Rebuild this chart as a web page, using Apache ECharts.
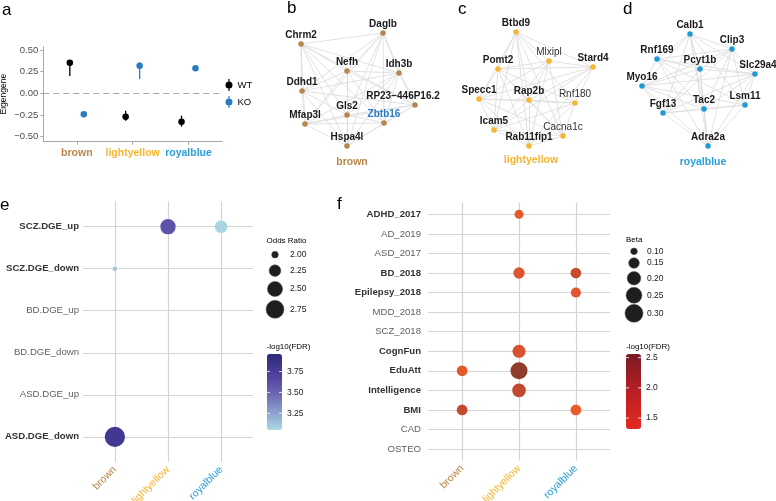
<!DOCTYPE html>
<html><head><meta charset="utf-8">
<script src="https://cdn.jsdelivr.net/npm/echarts@6/dist/echarts.min.js"></script>
<style>html,body{margin:0;padding:0;background:#fff}#c{width:776px;height:501px}</style>
</head><body><div id="c"></div><script>
// ---------- data ----------
const modules = ['brown', 'lightyellow', 'royalblue'];
// panel a (eigengene)
const eigenTicks = [-0.5, -0.25, 0, 0.25, 0.5];
const wtMean = [0.353, -0.270, -0.327];
const wtLow  = [0.200, -0.316, -0.385];
const wtHigh = [0.385, -0.200, -0.258];
const koMean = [-0.242, 0.318, 0.288];
const koLow  = [-0.252, 0.165, 0.272];
const koHigh = [-0.232, 0.357, 0.302];
// panel b/c/d networks (layout coordinates)
const brownGenes = ['Chrm2', 'Daglb', 'Nefh', 'Idh3b', 'Ddhd1', 'RP23\u2212446P16.2', 'Gls2', 'Mfap3l', 'Zbtb16', 'Hspa4l'];
const brownX = [11, 93, 57, 109, 12, 125, 57, 15, 94, 57];
const brownY = [24, 13, 51, 53, 71, 85, 95, 104, 103, 126];
const brownEdges = [[0,1],[0,2],[0,3],[0,4],[0,5],[0,6],[0,7],[0,8],[0,9],[1,2],[1,3],[1,4],[1,6],[1,7],[1,8],[1,9],[1,5],[2,3],[2,4],[2,5],[2,6],[2,8],[2,9],[2,7],[3,4],[3,5],[3,6],[3,7],[3,8],[3,9],[4,5],[4,6],[4,7],[4,9],[5,6],[5,7],[5,8],[5,9],[6,7],[6,8],[6,9],[7,8],[7,9],[8,9]];
const yellowGenes = ['Btbd9', 'Pomt2', 'Mlxipl', 'Stard4', 'Specc1', 'Rap2b', 'Rnf180', 'Icam5', 'Cacna1c', 'Rab11fip1'];
const yellowX = [56, 38, 89, 133, 19, 69, 115, 34, 103, 69];
const yellowY = [12, 49, 41, 47, 79, 80, 83, 110, 116, 126];
const yellowEdges = [[0,1],[0,2],[0,3],[0,4],[0,5],[0,6],[0,7],[0,8],[0,9],[1,2],[1,3],[1,4],[1,5],[1,6],[1,7],[1,8],[1,9],[2,3],[2,4],[2,5],[2,7],[2,9],[2,8],[3,4],[3,5],[3,6],[3,7],[3,9],[4,5],[4,6],[4,7],[4,8],[4,9],[5,6],[5,7],[5,8],[5,9],[6,7],[6,9],[6,8],[7,8],[7,9],[8,9]];
const blueGenes = ['Calb1', 'Clip3', 'Rnf169', 'Pcyt1b', 'Slc29a4', 'Myo16', 'Fgf13', 'Tac2', 'Lsm11', 'Adra2a'];
const blueX = [60, 102, 27, 70, 125, 12, 33, 74, 115, 78];
const blueY = [14, 29, 39, 49, 54, 66, 93, 89, 85, 126];
const blueEdges = [[0,1],[0,2],[0,3],[0,4],[0,5],[0,6],[0,7],[0,8],[0,9],[1,2],[1,3],[1,4],[1,5],[1,6],[1,7],[1,8],[1,9],[2,3],[2,4],[2,5],[2,7],[2,8],[2,9],[3,4],[3,5],[3,6],[3,7],[3,9],[4,5],[4,6],[4,7],[4,8],[4,9],[5,6],[5,7],[5,8],[5,9],[6,7],[6,8],[6,9],[7,8],[7,9],[8,9]];
const yellowNormal = ['Mlxipl', 'Rnf180', 'Cacna1c'];
// panel e (DGE enrichment)
const dgeSets = ['SCZ.DGE_up', 'SCZ.DGE_down', 'BD.DGE_up', 'BD.DGE_down', 'ASD.DGE_up', 'ASD.DGE_down'];
const dgeModule = ['lightyellow', 'royalblue', 'brown', 'brown'];
const dgeSet = ['SCZ.DGE_up', 'SCZ.DGE_up', 'SCZ.DGE_down', 'ASD.DGE_down'];
const dgeOR = [2.51, 2.31, 1.93, 2.98];
const dgeFDR = [3.60, 3.06, 3.12, 3.80];
const orBreaks = [2.00, 2.25, 2.50, 2.75];
const dgeFdrTicks = [3.25, 3.50, 3.75];
// panel f (GWAS enrichment)
const gwasTraits = ['ADHD_2017', 'AD_2019', 'ASD_2017', 'BD_2018', 'Epilepsy_2018', 'MDD_2018', 'SCZ_2018', 'CognFun', 'EduAtt', 'Intelligence', 'BMI', 'CAD', 'OSTEO'];
const gwasModule = ['lightyellow', 'lightyellow', 'royalblue', 'royalblue', 'lightyellow', 'brown', 'lightyellow', 'lightyellow', 'brown', 'royalblue'];
const gwasTrait = ['ADHD_2017', 'BD_2018', 'BD_2018', 'Epilepsy_2018', 'CognFun', 'EduAtt', 'EduAtt', 'Intelligence', 'BMI', 'BMI'];
const gwasBeta = [0.126, 0.160, 0.150, 0.140, 0.190, 0.150, 0.275, 0.200, 0.150, 0.150];
const gwasFDR = [1.45, 1.63, 1.88, 1.55, 1.70, 1.50, 2.50, 1.98, 1.95, 1.38];
const betaBreaks = [0.10, 0.15, 0.20, 0.25, 0.30];
const gwasFdrTicks = [2.5, 2.0, 1.5];

// ---------- styling ----------
const FONT = 'Liberation Sans, Arial, Helvetica, sans-serif';
const modColor = { brown: '#b8864b', lightyellow: '#f6b630', royalblue: '#2a9fd9' };
const nodeColor = { brown: '#b8864b', lightyellow: '#f6b630', royalblue: '#1f9ad6' };
const koBlue = '#2a7bc4';
const gridGray = '#d4d4d4';
const orSize = v => Math.sqrt(Math.max(8, 45 + (v - 2) * 372));
const betaSize = v => Math.sqrt(45 + (v - 0.1) * 1400);
const dodge = 0.125;
const modRich = {};
modules.forEach(m => { modRich[m] = { color: modColor[m], fontFamily: FONT, fontSize: 10.5 }; });
const modRichBold = {};
modules.forEach(m => { modRichBold[m] = { color: modColor[m], fontWeight: 'bold', fontSize: 10.5, fontFamily: FONT }; });
const fmtSigned = v => (v < 0 ? '\u2212' : '') + Math.abs(v).toFixed(2);

// ---------- grids ----------
const gridBase = { outerBoundsMode: 'none', containLabel: false };
const grids = [
  { left: 43.3, top: 46.7, width: 178.7, height: 95 },   // a
  { left: 290, top: 20, width: 140, height: 135 },       // b
  { left: 460, top: 20, width: 150, height: 135 },       // c
  { left: 630, top: 20, width: 146, height: 135 },       // d
  { left: 83, top: 201.5, width: 170, height: 260.5 },   // e
  { left: 428, top: 202.6, width: 182, height: 258.2 }   // f
].map(g => Object.assign({}, gridBase, g));

const hiddenAxis = (i, max, inv) => ({ type: 'value', gridIndex: i, min: 0, max: max, inverse: !!inv, show: false });
const modIdx = [0, 1, 2];

const xAxes = [
  { type: 'value', gridIndex: 0, min: -0.6, max: 2.6,
    axisLine: { show: true, onZero: false, lineStyle: { color: '#a8a8a8', width: 1 } },
    axisTick: { show: true, length: 3, customValues: modIdx, lineStyle: { color: '#a8a8a8' } },
    axisLabel: { customValues: modIdx, margin: 6, formatter: v => '{' + modules[v] + '|' + modules[v] + '}', rich: modRichBold },
    splitLine: { show: false } },
  hiddenAxis(1, 140), hiddenAxis(2, 150), hiddenAxis(3, 146),
  { type: 'value', gridIndex: 4, min: -0.6, max: 2.6,
    axisLine: { show: false }, axisTick: { show: false, customValues: modIdx },
    axisLabel: { customValues: modIdx, rotate: 45, margin: 6, formatter: v => '{' + modules[v] + '|' + modules[v] + '}', rich: modRich },
    splitLine: { show: true, lineStyle: { color: gridGray, width: 1.2 } } },
  { type: 'value', gridIndex: 5, min: -0.6, max: 2.6,
    axisLine: { show: false }, axisTick: { show: false, customValues: modIdx },
    axisLabel: { customValues: modIdx, rotate: 45, margin: 6, formatter: v => '{' + modules[v] + '|' + modules[v] + '}', rich: modRich },
    splitLine: { show: true, lineStyle: { color: gridGray, width: 1.2 } } }
];

const dgeIdx = dgeSets.map((s, i) => i);
const gwasIdx = gwasTraits.map((s, i) => i);
const labRich = { b: { fontWeight: 'bold', color: '#333', fontSize: 9.6, fontFamily: FONT }, n: { color: '#606060', fontSize: 9.6, fontFamily: FONT } };

const yAxes = [
  { type: 'value', gridIndex: 0, min: -0.558, max: 0.537,
    name: 'Eigengene', nameLocation: 'middle', nameGap: 35, nameRotate: 90,
    nameTextStyle: { fontSize: 8.5, color: '#000' },
    axisLine: { show: true, onZero: false, lineStyle: { color: '#a8a8a8', width: 1 } },
    axisTick: { show: true, length: 3, customValues: eigenTicks, lineStyle: { color: '#a8a8a8' } },
    axisLabel: { customValues: eigenTicks, margin: 5, fontSize: 9.5, color: '#4d4d4d', formatter: fmtSigned },
    splitLine: { show: false } },
  hiddenAxis(1, 135, true), hiddenAxis(2, 135, true), hiddenAxis(3, 135, true),
  { type: 'value', gridIndex: 4, min: -0.6, max: 5.6, inverse: true,
    axisLine: { show: false }, axisTick: { show: false, customValues: dgeIdx },
    axisLabel: { customValues: dgeIdx, margin: 4, formatter: v => { const n = dgeSets[v]; return (dgeSet.includes(n) ? '{b|' : '{n|') + n + '}'; }, rich: labRich },
    splitLine: { show: true, lineStyle: { color: gridGray, width: 1.2 } } },
  { type: 'value', gridIndex: 5, min: -0.6, max: 12.6, inverse: true,
    axisLine: { show: false }, axisTick: { show: false, customValues: gwasIdx },
    axisLabel: { customValues: gwasIdx, margin: 7, formatter: v => { const n = gwasTraits[v]; return (gwasTrait.includes(n) ? '{b|' : '{n|') + n + '}'; }, rich: labRich },
    splitLine: { show: true, lineStyle: { color: gridGray, width: 1.2 } } }
];

// ---------- series ----------
function errSeries(low, high, sign, color) {
  return {
    type: 'custom', xAxisIndex: 0, yAxisIndex: 0, silent: true, z: 2,
    data: modules.map((m, i) => [i + sign * dodge, low[i], high[i]]),
    encode: { x: 0, y: [1, 2] },
    renderItem: (params, api) => {
      const p1 = api.coord([api.value(0), api.value(1)]);
      const p2 = api.coord([api.value(0), api.value(2)]);
      return { type: 'line', shape: { x1: p1[0], y1: p1[1], x2: p2[0], y2: p2[1] }, style: { stroke: color, lineWidth: 1.3 } };
    }
  };
}

function networkSeries(gi, genes, xs, ys, edges, color, normalSet, special) {
  return {
    type: 'graph', coordinateSystem: 'cartesian2d', xAxisIndex: gi, yAxisIndex: gi,
    layout: 'none', symbol: 'circle', symbolSize: 5.5, silent: true, z: 2,
    itemStyle: { color: color },
    data: genes.map((g, i) => {
      const sp = special[g] || {};
      return { name: g, value: [xs[i], ys[i]],
        label: { fontWeight: normalSet.includes(g) ? 'normal' : 'bold', color: sp.color || (normalSet.includes(g) ? '#333' : '#1a1a1a'), offset: sp.offset || [0, 0] } };
    }),
    links: edges.map(e => ({ source: genes[e[0]], target: genes[e[1]] })),
    lineStyle: { color: '#dadada', width: 0.8, opacity: 1, curveness: 0 },
    label: { show: true, position: 'top', distance: 1, fontSize: 10, fontFamily: FONT },
    emphasis: { disabled: true }
  };
}

const series = [
  errSeries(wtLow, wtHigh, -1, '#000'),
  errSeries(koLow, koHigh, 1, koBlue),
  { name: 'WT', type: 'scatter', xAxisIndex: 0, yAxisIndex: 0, symbolSize: 6.5, z: 3,
    itemStyle: { color: '#000', opacity: 1 },
    data: modules.map((m, i) => [i - dodge, wtMean[i]]),
    markLine: { silent: true, symbol: 'none', label: { show: false }, animation: false,
      lineStyle: { color: '#a8a8a8', type: [6, 4], width: 1 }, data: [{ yAxis: 0 }] } },
  { name: 'KO', type: 'scatter', xAxisIndex: 0, yAxisIndex: 0, symbolSize: 6.5, z: 3,
    itemStyle: { color: koBlue, opacity: 1 },
    data: modules.map((m, i) => [i + dodge, koMean[i]]) },
  networkSeries(1, brownGenes, brownX, brownY, brownEdges, nodeColor.brown, [],
    { 'RP23\u2212446P16.2': { offset: [-12, 0] }, 'Zbtb16': { color: koBlue } }),
  networkSeries(2, yellowGenes, yellowX, yellowY, yellowEdges, nodeColor.lightyellow, yellowNormal, {}),
  networkSeries(3, blueGenes, blueX, blueY, blueEdges, nodeColor.royalblue, [], { 'Slc29a4': { offset: [3, 0] } }),
  { name: 'dge', type: 'scatter', xAxisIndex: 4, yAxisIndex: 4, z: 3, silent: true,
    data: dgeModule.map((m, i) => [modules.indexOf(m), dgeSets.indexOf(dgeSet[i]), dgeOR[i], dgeFDR[i]]),
    symbolSize: d => orSize(d[2]), itemStyle: { opacity: 1 } },
  { name: 'gwas', type: 'scatter', xAxisIndex: 5, yAxisIndex: 5, z: 3, silent: true,
    data: gwasModule.map((m, i) => [modules.indexOf(m), gwasTraits.indexOf(gwasTrait[i]), gwasBeta[i], gwasFDR[i]]),
    symbolSize: d => betaSize(d[2]), itemStyle: { opacity: 1 } },
  { name: 'gwasScale', type: 'scatter', xAxisIndex: 5, yAxisIndex: 5, data: [] }
];

// ---------- legends / annotations ----------
const eCb = { left: 267, top: 354, w: 15, h: 76, min: 3.05, max: 3.96 };
const fCb = { left: 626, top: 354, w: 15, h: 75, min: 1.32, max: 2.56 };
const cbY = (cb, v) => cb.top + (cb.max - v) / (cb.max - cb.min) * cb.h;

const graphic = [];
const txt = (x, y, text, o) => graphic.push(Object.assign({ type: 'text', x: x, y: y, z: 50, silent: true,
  style: Object.assign({ text: text, fill: '#000', fontSize: 10, fontFamily: FONT, align: 'left', verticalAlign: 'middle' }, o || {}) }));
// panel letters
[['a', 2, 10], ['b', 287, 8], ['c', 458, 9], ['d', 623, 9], ['e', 0, 205], ['f', 337, 204]]
  .forEach(p => txt(p[1], p[2], p[0], { fontSize: 17 }));
// network titles
txt(352, 162, 'brown', { fill: modColor.brown, fontWeight: 'bold', fontSize: 10.5, align: 'center' });
txt(531, 160, 'lightyellow', { fill: modColor.lightyellow, fontWeight: 'bold', fontSize: 10.5, align: 'center' });
txt(703, 162, 'royalblue', { fill: modColor.royalblue, fontWeight: 'bold', fontSize: 10.5, align: 'center' });
// Odds Ratio size legend
txt(266.5, 241, 'Odds Ratio', { fontSize: 8 });
const orKeyY = [254.7, 270.7, 289, 309.3];
orBreaks.forEach((v, i) => {
  graphic.push({ type: 'circle', z: 50, silent: true, shape: { cx: 275, cy: orKeyY[i], r: orSize(v) / 2 }, style: { fill: '#1e1e1e', stroke: '#555', lineWidth: 0.5 } });
  txt(290, orKeyY[i], v.toFixed(2), { fontSize: 8.5, fill: '#222' });
});
// Beta size legend
txt(626, 240, 'Beta', { fontSize: 8 });
const betaKeyY = [251.3, 263, 278.3, 295.3, 313.3];
betaBreaks.forEach((v, i) => {
  graphic.push({ type: 'circle', z: 50, silent: true, shape: { cx: 634, cy: betaKeyY[i], r: betaSize(v) / 2 }, style: { fill: '#1e1e1e', stroke: '#555', lineWidth: 0.5 } });
  txt(647, betaKeyY[i], v.toFixed(2), { fontSize: 8.5, fill: '#222' });
});
// colorbar titles + ticks
txt(266.5, 347, '-log10(FDR)', { fontSize: 8 });
txt(626, 347, '-log10(FDR)', { fontSize: 8 });
function cbTicks(cb, ticks, dec) {
  ticks.forEach(v => {
    const y = cbY(cb, v);
    graphic.push({ type: 'line', z: 60, silent: true, shape: { x1: cb.left, y1: y, x2: cb.left + 3, y2: y }, style: { stroke: '#fff', lineWidth: 0.8 } });
    graphic.push({ type: 'line', z: 60, silent: true, shape: { x1: cb.left + cb.w - 3, y1: y, x2: cb.left + cb.w, y2: y }, style: { stroke: '#fff', lineWidth: 0.8 } });
    txt(cb.left + cb.w + 5, y, v.toFixed(dec), { fontSize: 8.5, fill: '#222' });
  });
}
cbTicks(eCb, dgeFdrTicks, 2);
cbTicks(fCb, gwasFdrTicks, 1);

const legendIcon = 'path://M3.4,0h1.2v12h-1.2z M7.5,6a3.5,3.5 0 1,1 -7,0a3.5,3.5 0 1,1 7,0z';

const option = {
  animation: false,
  backgroundColor: '#fff',
  textStyle: { fontFamily: FONT },
  grid: grids,
  xAxis: xAxes,
  yAxis: yAxes,
  legend: { data: [{ name: 'WT', icon: legendIcon }, { name: 'KO', icon: legendIcon }],
    orient: 'vertical', left: 225.5, top: 79, itemWidth: 7, itemHeight: 12, itemGap: 5, padding: 0,
    selectedMode: false, textStyle: { fontSize: 9.5, color: '#000' } },
  visualMap: [
    { type: 'continuous', seriesIndex: 7, dimension: 3, min: eCb.min, max: eCb.max, show: true,
      calculable: false, left: eCb.left, top: eCb.top, itemWidth: eCb.w, itemHeight: eCb.h, padding: 0,
      inRange: { color: ['#aad9e3', '#8a9ccc', '#6a62b0', '#4a3d9e', '#2b2c77'] } },
    { type: 'continuous', seriesIndex: 9, dimension: 3, min: fCb.min, max: fCb.max, show: true,
      calculable: false, left: fCb.left, top: fCb.top, itemWidth: fCb.w, itemHeight: fCb.h, padding: 0,
      inRange: { color: ['#e3291f', '#b81f25', '#7a1a24'] } },
    { type: 'continuous', seriesIndex: 8, dimension: 3, min: fCb.min, max: fCb.max, show: false,
      inRange: { color: ['#ef5b2a', '#dc5430', '#c44a2f', '#a8432d', '#8a3a2a'] } }
  ],
  graphic: graphic,
  series: series
};

const chart = echarts.init(document.getElementById('c'), null, { renderer: 'canvas' });
chart.setOption(option);
</script></body></html>
